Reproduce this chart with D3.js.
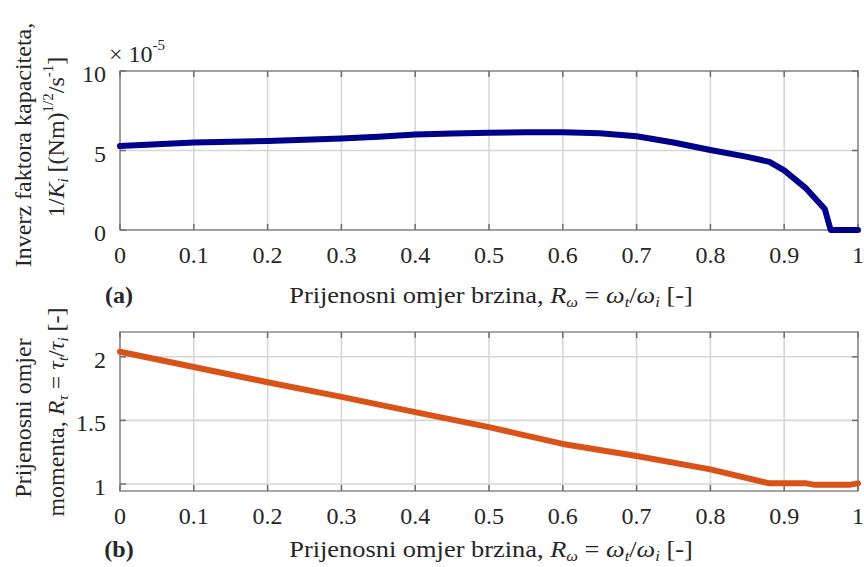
<!DOCTYPE html>
<html><head><meta charset="utf-8">
<script src="https://cdn.jsdelivr.net/npm/d3@7"></script>
<style>
body{margin:0;background:#fff;}
text{font-family:"Liberation Serif","Times New Roman",serif;fill:#262626;}
</style></head>
<body><svg id="c" width="864" height="567"></svg>
<script>
// Panel (a): inverse capacity factor (×1e-5)
const xA = [0,0.05,0.1,0.15,0.2,0.25,0.3,0.35,0.4,0.45,0.5,0.55,0.6,0.65,0.7,0.75,0.8,0.85,0.88,0.9,0.93,0.955,0.963,0.98,1.0];
const yA = [5.28,5.4,5.5,5.55,5.6,5.68,5.75,5.87,6.0,6.07,6.12,6.15,6.15,6.08,5.9,5.5,5.03,4.6,4.28,3.75,2.6,1.32,0,0,0];
// Panel (b): torque transmission ratio
const xB = [0,0.1,0.2,0.3,0.4,0.5,0.6,0.7,0.8,0.88,0.9,0.93,0.94,0.99,1.0];
const yB = [2.04,1.92,1.80,1.685,1.565,1.447,1.315,1.22,1.115,1.005,1.005,1.005,0.995,0.995,1.005];
const xTicks = [0,0.1,0.2,0.3,0.4,0.5,0.6,0.7,0.8,0.9,1];
const yTicksA = [0,5,10];
const yTicksB = [1,1.5,2];

const FS = 24, SUB = 15;
const svg = d3.select("#c");
const L = 120, R = 858;
const x = d3.scaleLinear().domain([0,1]).range([L,R]);

function panel(top, bottom, yDomain, yTicks, xs, ys, color, tickFmt){
  const y = d3.scaleLinear().domain(yDomain).range([bottom, top]);
  const g = svg.append("g");
  g.selectAll(".gx").data(xTicks).join("line")
    .attr("x1", d=>x(d)).attr("x2", d=>x(d)).attr("y1", top).attr("y2", bottom)
    .attr("stroke", "#d6d6d6").attr("stroke-width", 1.6);
  g.selectAll(".gy").data(yTicks).join("line")
    .attr("x1", L).attr("x2", R).attr("y1", d=>y(d)).attr("y2", d=>y(d))
    .attr("stroke", "#d6d6d6").attr("stroke-width", 1.6);
  g.append("rect").attr("x", L).attr("y", top).attr("width", R-L).attr("height", bottom-top)
    .attr("fill", "none").attr("stroke", "#8a8a8a").attr("stroke-width", 1.5);
  const tk = "#6e6e6e";
  g.selectAll(".tx").data(xTicks).join("line")
    .attr("x1", d=>x(d)).attr("x2", d=>x(d)).attr("y1", bottom).attr("y2", bottom-6).attr("stroke", tk).attr("stroke-width",1.5);
  g.selectAll(".tx2").data(xTicks).join("line")
    .attr("x1", d=>x(d)).attr("x2", d=>x(d)).attr("y1", top).attr("y2", top+6).attr("stroke", tk).attr("stroke-width",1.5);
  g.selectAll(".ty").data(yTicks).join("line")
    .attr("x1", L).attr("x2", L+6).attr("y1", d=>y(d)).attr("y2", d=>y(d)).attr("stroke", tk).attr("stroke-width",1.5);
  g.selectAll(".ty2").data(yTicks).join("line")
    .attr("x1", R).attr("x2", R-6).attr("y1", d=>y(d)).attr("y2", d=>y(d)).attr("stroke", tk).attr("stroke-width",1.5);
  g.selectAll(".lx").data(xTicks).join("text")
    .attr("x", d=>x(d)).attr("y", bottom+33).attr("text-anchor","middle")
    .attr("font-size", FS).text(d=>d3.format("")(d));
  g.selectAll(".ly").data(yTicks).join("text")
    .attr("x", L-14).attr("y", d=>y(d)+11).attr("text-anchor","end")
    .attr("font-size", FS).text(tickFmt);
  const line = d3.line().x((d,i)=>x(xs[i])).y(d=>y(d));
  g.append("path").datum(ys).attr("d", line).attr("fill","none")
    .attr("stroke", color).attr("stroke-width", 6)
    .attr("stroke-linejoin","round").attr("stroke-linecap","round");
  return y;
}

panel(71, 230, [0,10], yTicksA, xA, yA, "#00008a", d=>String(d));
panel(332, 491, [0.945,2.195], yTicksB, xB, yB, "#d95319", d=>String(d));

// multiplier
const m = svg.append("text").attr("x", 109).attr("y", 62).attr("font-size", FS);
m.append("tspan").text("× 10");
m.append("tspan").attr("dy", -12).attr("font-size", SUB).text("-5");

// x-axis labels
function xlabel(yb){
  const t = svg.append("text").attr("x", 0).attr("y", 0).attr("text-anchor","middle").attr("font-size", FS)
    .attr("transform", `translate(491,${yb}) scale(1.1,1)`);
  t.append("tspan").text("Prijenosni omjer brzina, ");
  t.append("tspan").attr("font-style","italic").text("R");
  t.append("tspan").attr("font-style","italic").attr("font-size",SUB).attr("dy",4).text("ω");
  t.append("tspan").attr("dy",-4).text(" = ");
  t.append("tspan").attr("font-style","italic").text("ω");
  t.append("tspan").attr("font-style","italic").attr("font-size",SUB).attr("dy",4).text("t");
  t.append("tspan").attr("dy",-4).text("/");
  t.append("tspan").attr("font-style","italic").text("ω");
  t.append("tspan").attr("font-style","italic").attr("font-size",SUB).attr("dy",4).text("i");
  t.append("tspan").attr("dy",-4).text(" [-]");
}
xlabel(303);
xlabel(557);
svg.append("text").attr("x", 119).attr("y", 303).attr("text-anchor","middle").attr("font-size",FS).attr("font-weight","bold").text("(a)");
svg.append("text").attr("x", 119).attr("y", 557).attr("text-anchor","middle").attr("font-size",FS).attr("font-weight","bold").text("(b)");

// y labels panel a
svg.append("text").attr("transform","translate(31,145) rotate(-90)").attr("text-anchor","middle")
  .attr("font-size",FS).text("Inverz faktora kapaciteta,");
const ya2 = svg.append("text").attr("transform","translate(64,137) rotate(-90)").attr("text-anchor","middle").attr("font-size",FS);
ya2.append("tspan").text("1/");
ya2.append("tspan").attr("font-style","italic").text("K");
ya2.append("tspan").attr("font-style","italic").attr("font-size",SUB).attr("dy",4).text("i");
ya2.append("tspan").attr("dy",-4).text(" [(Nm)");
ya2.append("tspan").attr("font-size",SUB).attr("dy",-11).text("1/2");
ya2.append("tspan").attr("dy",11).text("/s");
ya2.append("tspan").attr("font-size",SUB).attr("dy",-11).text("-1");
ya2.append("tspan").attr("dy",11).text("]");

// y labels panel b
svg.append("text").attr("transform","translate(31,418) rotate(-90)").attr("text-anchor","middle")
  .attr("font-size",FS).text("Prijenosni omjer");
const yb2 = svg.append("text").attr("transform","translate(64,412) rotate(-90)").attr("text-anchor","middle").attr("font-size",FS);
yb2.append("tspan").text("momenta, ");
yb2.append("tspan").attr("font-style","italic").text("R");
yb2.append("tspan").attr("font-style","italic").attr("font-size",SUB).attr("dy",4).text("τ");
yb2.append("tspan").attr("dy",-4).text(" = ");
yb2.append("tspan").attr("font-style","italic").text("τ");
yb2.append("tspan").attr("font-style","italic").attr("font-size",SUB).attr("dy",4).text("t");
yb2.append("tspan").attr("dy",-4).text("/");
yb2.append("tspan").attr("font-style","italic").text("τ");
yb2.append("tspan").attr("font-style","italic").attr("font-size",SUB).attr("dy",4).text("i");
yb2.append("tspan").attr("dy",-4).text(" [-]");
</script></body></html>
